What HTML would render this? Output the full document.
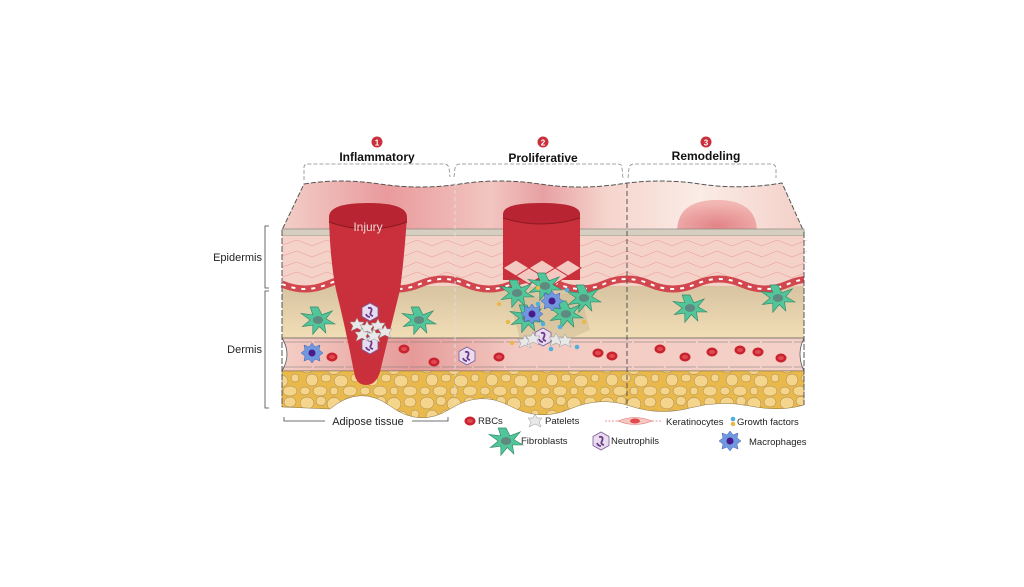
<!DOCTYPE html>
<html><head><meta charset="utf-8"><style>
html,body{margin:0;padding:0;background:#fff;}
svg{display:block;font-family:"Liberation Sans",sans-serif;}
</style></head><body>
<svg width="1024" height="587" viewBox="0 0 1024 587" xmlns="http://www.w3.org/2000/svg">
<defs>
<linearGradient id="top" x1="0" x2="1" y1="0" y2="0">
<stop offset="0" stop-color="#f3cfc8"/><stop offset="0.2" stop-color="#e99a9c"/><stop offset="0.4" stop-color="#f2c6c0"/><stop offset="0.5" stop-color="#e7a0a2"/><stop offset="0.62" stop-color="#f5d4cd"/><stop offset="0.8" stop-color="#fbece6"/><stop offset="1" stop-color="#f3d0c8"/>
</linearGradient>
<linearGradient id="derm" x1="0" x2="0" y1="0" y2="1"><stop offset="0" stop-color="#d8c3a2"/><stop offset="1" stop-color="#f1ddb5"/></linearGradient>
<linearGradient id="ves" x1="0" x2="1"><stop offset="0" stop-color="#f4cfc6"/><stop offset="0.25" stop-color="#e59a98"/><stop offset="0.45" stop-color="#f3cac2"/><stop offset="1" stop-color="#f4d1c8"/></linearGradient>
<radialGradient id="dome" cx="0.5" cy="0.8" r="0.7"><stop offset="0" stop-color="#e28387"/><stop offset="1" stop-color="#f2b7b3"/></radialGradient>
<pattern id="fat" width="60" height="36" patternUnits="userSpaceOnUse">
<rect width="60" height="36" fill="#e9b94c"/>
<g fill="#f4d58b" stroke="#a08050" stroke-width="0.5">
<ellipse cx="7" cy="7" rx="7" ry="6"/><ellipse cx="21" cy="5" rx="5" ry="4.5"/><ellipse cx="34" cy="8" rx="7" ry="6.5"/><ellipse cx="50" cy="6" rx="6" ry="5"/>
<ellipse cx="12" cy="20" rx="6" ry="6"/><ellipse cx="26" cy="18" rx="5" ry="4"/><ellipse cx="41" cy="21" rx="7" ry="6"/><ellipse cx="55" cy="18" rx="4" ry="4"/>
<ellipse cx="5" cy="31" rx="5" ry="4"/><ellipse cx="20" cy="31" rx="7" ry="5"/><ellipse cx="34" cy="31" rx="4" ry="4"/><ellipse cx="50" cy="31" rx="7" ry="5"/>
</g></pattern>
<g id="rbc"><ellipse rx="5.5" ry="4.5" fill="#c8232e"/><ellipse rx="3" ry="2" fill="#e04a50"/></g>
<g id="fib"><g transform="scale(1.3)"><polygon points="0,-10 3,-4 11,-7 6,-1 13,3 5,3 6,10 1,5 -4,11 -4,4 -12,5 -6,0 -13,-5 -4,-4 -6,-10" fill="#52c59a" stroke="#2f8a66" stroke-width="0.5"/><ellipse rx="4" ry="3" fill="#5f8a80"/></g></g>
<g id="mac"><polygon points="0,-10 3,-6 8,-8 7,-3 11,0 7,3 8,8 3,6 0,10 -3,6 -8,8 -7,3 -11,0 -7,-3 -8,-8 -3,-6" fill="#6f98e0" stroke="#3d5fb0" stroke-width="0.5"/><circle r="3.5" fill="#4a1a8a"/></g>
<g id="neu"><polygon points="0,-9 8,-4.5 8,4.5 0,9 -8,4.5 -8,-4.5" fill="#eadcef" stroke="#7a5a9a" stroke-width="0.8"/><path d="M-2,-4 Q3,-5 1,0 Q-1,3 3,4 M-4,2 Q-3,5 0,5" stroke="#6a3a8a" stroke-width="1.8" fill="none"/></g>
<g id="plt"><polygon points="0,-7 2,-3 7,-3 4,1 6,6 0,3 -6,6 -4,1 -7,-3 -2,-3" fill="#e8e8e8" stroke="#999" stroke-width="0.5"/></g>
</defs>

<path d="M304,184 Q340,178 380,184 T460,184 T540,184 T620,184 T700,184 T782,183 L804,232 L282,230 Z" fill="url(#top)" stroke="#555" stroke-width="1" stroke-dasharray="5,2"/>
<path d="M677,232 Q677,200 717,200 Q757,200 757,232 Z" fill="url(#dome)"/>
<rect x="282" y="229" width="522" height="7" fill="#d6cfc0" stroke="#777" stroke-width="0.6"/>
<rect x="282" y="236" width="522" height="50" fill="#f5d2c8"/>
<g stroke="#e0606a" stroke-width="0.5" fill="none" opacity="0.55">
<path d="M282,245 l15,-5 l15,6 l15,-6 l15,6 l15,-6 l15,6 l15,-6 l15,6 l15,-6 l15,6 l15,-6 l15,6 l15,-6 l15,6 l15,-6 l15,6 l15,-6 l15,6 l15,-6 l15,6 l15,-6 l15,6 l15,-6 l15,6 l15,-6 l15,6 l15,-6 l15,6 l15,-6 l15,6 l15,-6 l15,6 l15,-6 l15,6 l15,-6"/>
<path d="M282,256 l15,-5 l15,6 l15,-6 l15,6 l15,-6 l15,6 l15,-6 l15,6 l15,-6 l15,6 l15,-6 l15,6 l15,-6 l15,6 l15,-6 l15,6 l15,-6 l15,6 l15,-6 l15,6 l15,-6 l15,6 l15,-6 l15,6 l15,-6 l15,6 l15,-6 l15,6 l15,-6 l15,6 l15,-6 l15,6 l15,-6 l15,6 l15,-6"/>
<path d="M282,267 l15,-5 l15,6 l15,-6 l15,6 l15,-6 l15,6 l15,-6 l15,6 l15,-6 l15,6 l15,-6 l15,6 l15,-6 l15,6 l15,-6 l15,6 l15,-6 l15,6 l15,-6 l15,6 l15,-6 l15,6 l15,-6 l15,6 l15,-6 l15,6 l15,-6 l15,6 l15,-6 l15,6 l15,-6 l15,6 l15,-6 l15,6 l15,-6"/>
<path d="M282,277 l15,-5 l15,6 l15,-6 l15,6 l15,-6 l15,6 l15,-6 l15,6 l15,-6 l15,6 l15,-6 l15,6 l15,-6 l15,6 l15,-6 l15,6 l15,-6 l15,6 l15,-6 l15,6 l15,-6 l15,6 l15,-6 l15,6 l15,-6 l15,6 l15,-6 l15,6 l15,-6 l15,6 l15,-6 l15,6 l15,-6 l15,6 l15,-6"/>
</g>
<rect x="282" y="286" width="522" height="52" fill="url(#derm)"/>
<path d="M282,284 Q305,294 328,284 T374,284 T420,284 T466,284 T512,284 T558,284 T604,284 T650,284 T696,284 T742,284 T788,284 T834,284" stroke="#d2464e" stroke-width="7" fill="none"/>
<path d="M282,284 Q305,294 328,284 T374,284 T420,284 T466,284 T512,284 T558,284 T604,284 T650,284 T696,284 T742,284 T788,284 T834,284" stroke="#fff" stroke-width="2" stroke-dasharray="4,6" fill="none"/>
<rect x="804" y="270" width="40" height="30" fill="#fff"/>
<path d="M282,338 L804,338 Q796,354 804,371 L282,371 Q292,354 282,338 Z" fill="url(#ves)" stroke="#555" stroke-width="0.8"/>
<line x1="282" y1="342" x2="804" y2="342" stroke="#777" stroke-width="0.6" stroke-dasharray="30,2"/>
<line x1="282" y1="367" x2="804" y2="367" stroke="#777" stroke-width="0.6" stroke-dasharray="30,2"/>
<path d="M282,371 L804,371 L804,405 Q780,412 750,406 T690,408 T630,406 T570,409 T510,406 T450,409 T390,406 T330,409 L282,407 Z" fill="url(#fat)" stroke="#8a7040" stroke-width="0.5"/>
<line x1="282" y1="230" x2="282" y2="407" stroke="#555" stroke-width="1" stroke-dasharray="6,2"/>
<line x1="804" y1="232" x2="804" y2="405" stroke="#555" stroke-width="1" stroke-dasharray="6,2"/>
<line x1="455" y1="183" x2="455" y2="408" stroke="#ddd" stroke-width="1" stroke-dasharray="4,3"/>
<line x1="627" y1="183" x2="627" y2="408" stroke="#555" stroke-width="1" stroke-dasharray="5,3"/>
<path d="M329,217 L407,217 Q404,260 400,290 Q390,330 380,372 Q376,385 366,385 Q356,385 354,372 Q346,330 336,290 Q330,260 329,217 Z" fill="#c9303c"/>
<path d="M329,217 Q329,203 368,203 Q407,203 407,217 L407,222 Q368,236 329,222 Z" fill="#b82431"/>
<path d="M329,222 Q368,236 407,222" stroke="#8a1a22" stroke-width="1" fill="none"/>
<text x="368" y="231" font-size="12" fill="#f4d5d5" text-anchor="middle">Injury</text>
<path d="M503,214 L580,214 L580,280 L503,280 Z" fill="#c9303c"/>
<path d="M503,214 Q503,203 541,203 Q580,203 580,214 L580,218 Q541,230 503,218 Z" fill="#b82431"/>
<path d="M503,218 Q541,230 580,218" stroke="#8a1a22" stroke-width="1" fill="none"/>
<g fill="#f3c8c0" stroke="#c9303c" stroke-width="1">
<path d="M503,268 l13,-8 l13,8 l-13,8 z"/><path d="M529,268 l13,-8 l13,8 l-13,8 z"/><path d="M555,268 l13,-8 l13,8 l-13,8 z"/>
<path d="M516,276 l13,-8 l13,8 l-13,8 z"/><path d="M542,276 l13,-8 l13,8 l-13,8 z"/>
</g>
<path d="M510,300 L580,292 L590,330 L555,345 L520,340 Z" fill="#c7b690" opacity="0.45"/>
<use href="#fib" x="318" y="320"/><use href="#fib" x="419" y="320"/><use href="#fib" x="690" y="308"/><use href="#fib" x="778" y="298"/>
<use href="#fib" x="517" y="293"/><use href="#fib" x="527" y="318"/><use href="#fib" x="584" y="298"/><use href="#fib" x="566" y="314"/><use href="#fib" x="545" y="286"/>
<use href="#mac" x="312" y="353"/><use href="#mac" x="552" y="301"/><use href="#mac" x="532" y="314"/>
<use href="#neu" x="370" y="312"/><use href="#neu" x="370" y="345"/><use href="#neu" x="467" y="356"/><use href="#neu" x="543" y="337"/>
<use href="#plt" x="357" y="325"/><use href="#plt" x="367" y="328"/><use href="#plt" x="378" y="326"/><use href="#plt" x="362" y="335"/><use href="#plt" x="374" y="336"/><use href="#plt" x="385" y="332"/>
<use href="#plt" x="525" y="342"/><use href="#plt" x="533" y="339"/><use href="#plt" x="556" y="340"/><use href="#plt" x="565" y="341"/>
<g fill="#4fb0e0"><circle cx="538" cy="304" r="2.3"/><circle cx="567" cy="290" r="2.3"/><circle cx="560" cy="327" r="2.3"/><circle cx="577" cy="347" r="2.3"/><circle cx="551" cy="349" r="2.3"/><circle cx="543" cy="324" r="2.3"/></g>
<g fill="#e8b84a"><circle cx="499" cy="304" r="2.2"/><circle cx="508" cy="322" r="2.2"/><circle cx="584" cy="322" r="2.2"/><circle cx="512" cy="343" r="2.2"/><circle cx="538" cy="288" r="2.2"/></g>
<use href="#rbc" x="332" y="357"/><use href="#rbc" x="404" y="349"/><use href="#rbc" x="434" y="362"/><use href="#rbc" x="499" y="357"/>
<use href="#rbc" x="598" y="353"/><use href="#rbc" x="612" y="356"/><use href="#rbc" x="660" y="349"/><use href="#rbc" x="685" y="357"/><use href="#rbc" x="712" y="352"/><use href="#rbc" x="740" y="350"/><use href="#rbc" x="758" y="352"/><use href="#rbc" x="781" y="358"/>
<g font-size="12" font-weight="bold" fill="#111" text-anchor="middle">
<circle cx="377" cy="142" r="5.5" fill="#c9303c"/><text x="377" y="145.5" font-size="8" fill="#fff">1</text>
<circle cx="543" cy="142" r="5.5" fill="#c9303c"/><text x="543" y="145.5" font-size="8" fill="#fff">2</text>
<circle cx="706" cy="142" r="5.5" fill="#c9303c"/><text x="706" y="145.5" font-size="8" fill="#fff">3</text>
<text x="377" y="161">Inflammatory</text>
<text x="543" y="162">Proliferative</text>
<text x="706" y="160">Remodeling</text>
</g>
<g stroke="#888" stroke-width="0.8" stroke-dasharray="4,2" fill="none">
<path d="M304,180 L304,167 Q304,164 308,164 L444,164 Q448,164 449,168 L450,177"/>
<path d="M454,177 L455,168 Q456,164 460,164 L618,164 Q622,164 622,168 L623,178"/>
<path d="M628,178 L629,168 Q630,164 634,164 L771,164 Q775,164 776,168 L776,178"/>
</g>
<g stroke="#444" stroke-width="0.8" fill="none">
<path d="M269,226 L265,226 L265,288 L269,288"/>
<path d="M269,291 L265,291 L265,408 L269,408"/>
<path d="M284,417 L284,421 L325,421 M412,421 L448,421 L448,417"/>
</g>
<g font-size="11" fill="#222">
<text x="262" y="261" text-anchor="end">Epidermis</text>
<text x="262" y="353" text-anchor="end">Dermis</text>
<text x="368" y="425" text-anchor="middle">Adipose tissue</text>
</g>
<use href="#rbc" x="470" y="421"/>
<use href="#plt" x="535" y="421"/>
<g stroke="#e07070" stroke-width="0.8" stroke-dasharray="2,1.5" fill="none"><path d="M605,421 L618,421 M652,421 L662,421"/></g>
<path d="M618,421 Q635,414 652,421 Q635,428 618,421 Z" fill="#f5c8c0" stroke="#e07070" stroke-width="0.6"/><ellipse cx="635" cy="421" rx="5" ry="2.5" fill="#e04a50"/>
<circle cx="733" cy="419" r="2.3" fill="#4fb0e0"/><circle cx="733" cy="424" r="2.3" fill="#e8b84a"/>
<use href="#fib" x="506" y="441"/>
<use href="#neu" x="601" y="441"/>
<use href="#mac" x="730" y="441"/>
<g font-size="9.5" fill="#222">
<text x="478" y="424">RBCs</text>
<text x="545" y="424">Patelets</text>
<text x="666" y="425">Keratinocytes</text>
<text x="737" y="425">Growth factors</text>
<text x="521" y="444">Fibroblasts</text>
<text x="611" y="444">Neutrophils</text>
<text x="749" y="445">Macrophages</text>
</g>
</svg>
</body></html>
